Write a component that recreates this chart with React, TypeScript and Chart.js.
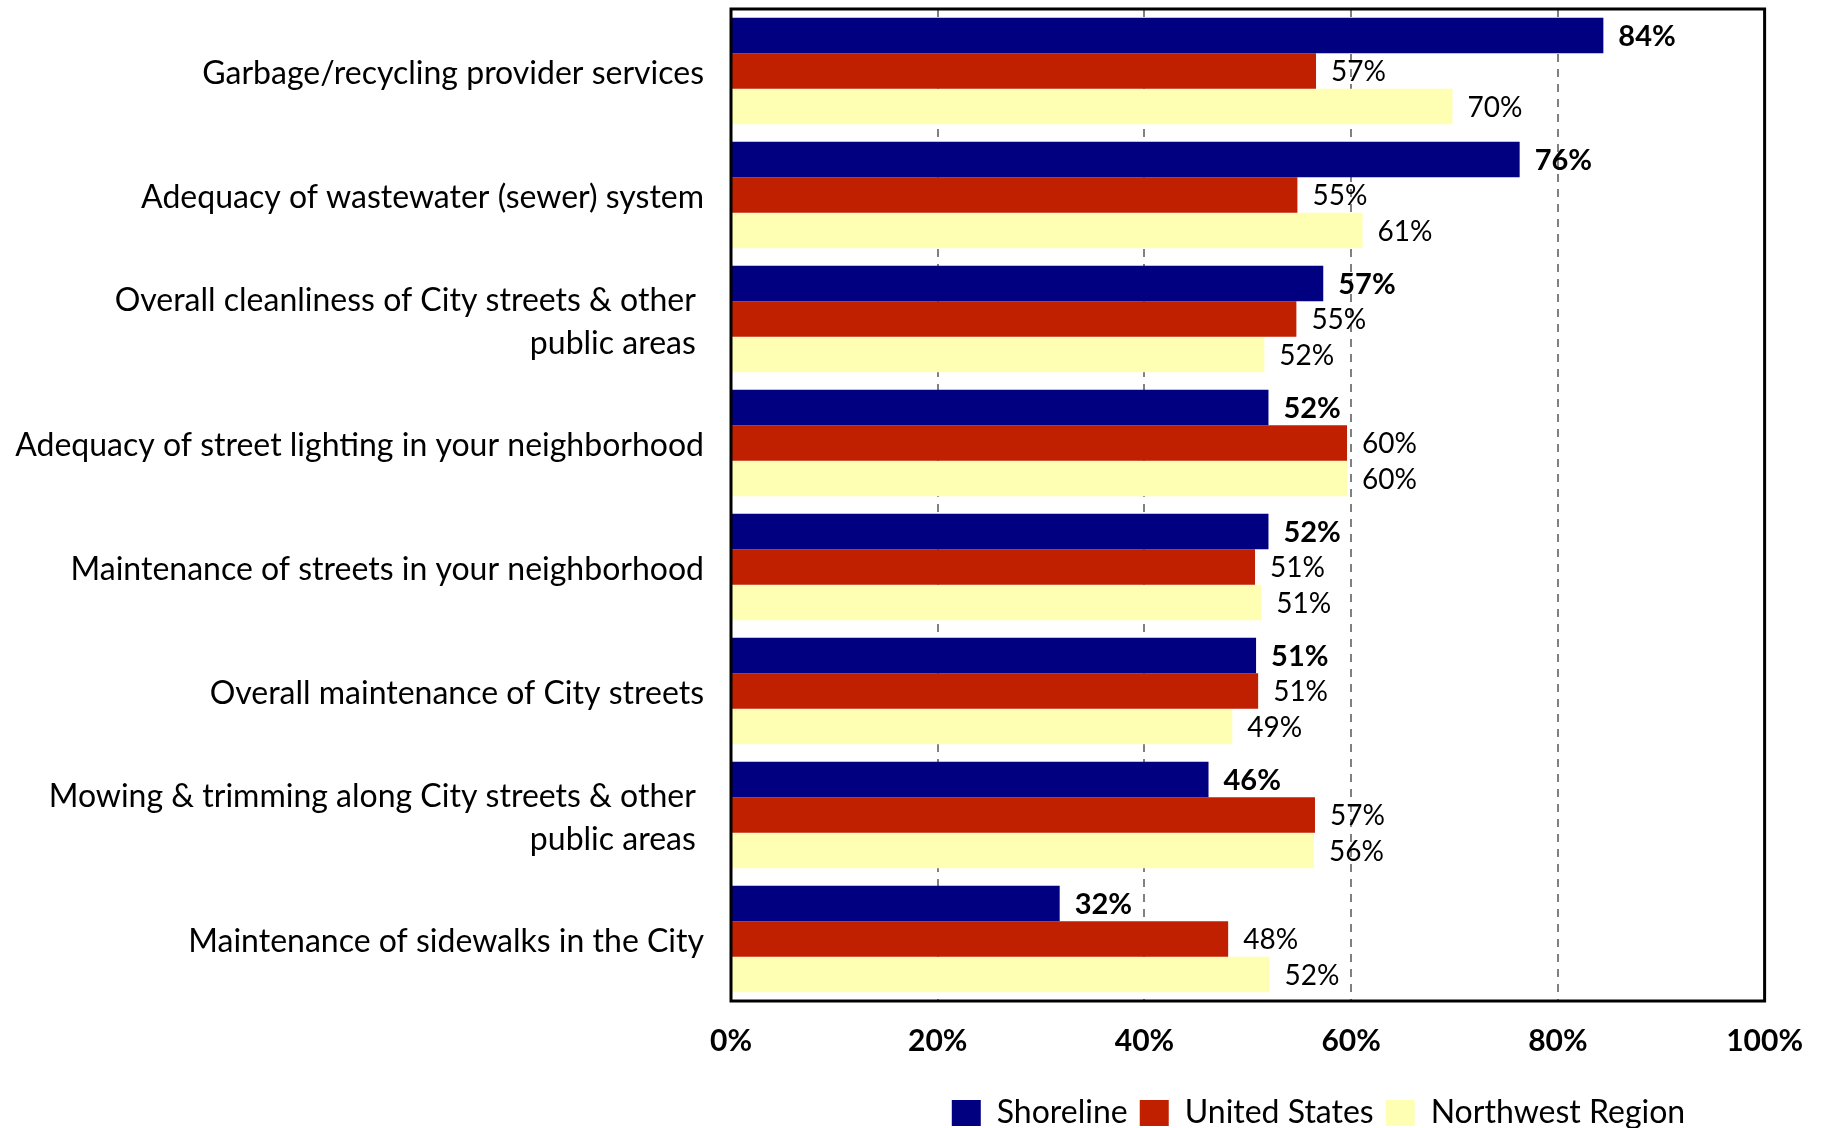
import React, { useEffect, useRef } from 'react';
import { Chart, registerables } from 'chart.js';

Chart.register(...registerables);

const categories: (string | string[])[] = [
  'Garbage/recycling provider services',
  'Adequacy of wastewater (sewer) system',
  ['Overall cleanliness of City streets & other ', 'public areas '],
  'Adequacy of street lighting in your neighborhood',
  'Maintenance of streets in your neighborhood',
  'Overall maintenance of City streets',
  ['Mowing & trimming along City streets & other ', 'public areas '],
  'Maintenance of sidewalks in the City',
];

const shoreline = [84.4, 76.3, 57.3, 52.0, 52.0, 50.8, 46.2, 31.8];
const unitedStates = [56.6, 54.8, 54.7, 59.6, 50.7, 51.0, 56.5, 48.1];
const northwestRegion = [69.8, 61.1, 51.6, 59.6, 51.3, 48.5, 56.4, 52.1];

const seriesNames = ['Shoreline', 'United States', 'Northwest Region'];
const xTicks = [0, 20, 40, 60, 80, 100];

const FONT = 'Lato';
const LEGEND_DX = 435;
const LEGEND_DY = 11;

const valueLabels = {
  id: 'valueLabels',
  afterDatasetsDraw(chart: any) {
    const ctx = chart.ctx;
    chart.data.datasets.forEach((ds: any, di: number) => {
      const meta = chart.getDatasetMeta(di);
      meta.data.forEach((bar: any, i: number) => {
        const v = ds.data[i] as number;
        ctx.save();
        ctx.font = `${di === 0 ? 'bold 29px' : '28px'} ${FONT}`;
        ctx.fillStyle = '#000';
        ctx.textBaseline = 'middle';
        ctx.textAlign = 'left';
        ctx.fillText(Math.round(v) + '%', bar.x + 15, bar.y + 1);
        ctx.restore();
      });
    });
  },
};

const frame = {
  id: 'frame',
  afterDraw(chart: any) {
    const { ctx, chartArea } = chart;
    ctx.save();
    ctx.strokeStyle = '#000';
    ctx.lineWidth = 3;
    ctx.strokeRect(chartArea.left, chartArea.top, chartArea.right - chartArea.left, chartArea.bottom - chartArea.top);
    ctx.restore();
  },
};

const legendShift = {
  id: 'legendShift',
  afterLayout(chart: any) {
    const l = chart.legend;
    if (!l) return;
    l.left += LEGEND_DX;
    l.right += LEGEND_DX;
    l.top += LEGEND_DY;
    l.bottom += LEGEND_DY;
  },
};

export default function App() {
  const ref = useRef<HTMLCanvasElement>(null);
  useEffect(() => {
    document.body.style.margin = '0';
    const chart = new Chart(ref.current as HTMLCanvasElement, {
      type: 'bar',
      data: {
        labels: categories as any,
        datasets: [
          { label: seriesNames[0], data: shoreline, backgroundColor: '#000080' },
          { label: seriesNames[1], data: unitedStates, backgroundColor: '#C02000' },
          { label: seriesNames[2], data: northwestRegion, backgroundColor: '#FFFFB3' },
        ],
      },
      options: {
        indexAxis: 'y',
        animation: false,
        responsive: true,
        maintainAspectRatio: false,
        layout: { padding: { top: 9, right: 58, bottom: 0, left: 0 } },
        datasets: { bar: { categoryPercentage: 0.86, barPercentage: 1.0 } },
        scales: {
          x: {
            min: 0,
            max: 100,
            afterBuildTicks: (s: any) => {
              s.ticks = xTicks.map((v) => ({ value: v }));
            },
            ticks: {
              callback: (v: any) => v + '%',
              font: { family: FONT, size: 30, weight: 'bold' },
              color: '#000',
              padding: 22,
            },
            grid: {
              color: (c: any) =>
                c.tick && (c.tick.value === 0 || c.tick.value === 100) ? 'rgba(0,0,0,0)' : '#808080',
              lineWidth: 2,
              drawTicks: false,
            },
            border: { display: false, dash: [8, 7] },
            afterFit: (s: any) => {
              s.height = 73;
            },
          },
          y: {
            ticks: {
              font: { family: FONT, size: 32, lineHeight: '43px' } as any,
              color: '#000',
              padding: 27,
              labelOffset: 3,
              autoSkip: false,
            },
            grid: { display: false, drawTicks: false },
            border: { display: false },
            afterFit: (s: any) => {
              s.width = 731;
              s.paddingTop = 0;
              s.paddingBottom = 0;
            },
          },
        },
        plugins: {
          legend: {
            position: 'bottom',
            labels: {
              boxWidth: 29,
              boxHeight: 26,
              padding: 12,
              color: '#000',
              font: { family: FONT, size: 32 },
            },
          },
          tooltip: { enabled: false },
        },
      } as any,
      plugins: [valueLabels, frame, legendShift],
    });
    return () => chart.destroy();
  }, []);
  return (
    <div style={{ width: 1825, height: 1128, position: 'relative' }}>
      <canvas ref={ref} />
    </div>
  );
}
